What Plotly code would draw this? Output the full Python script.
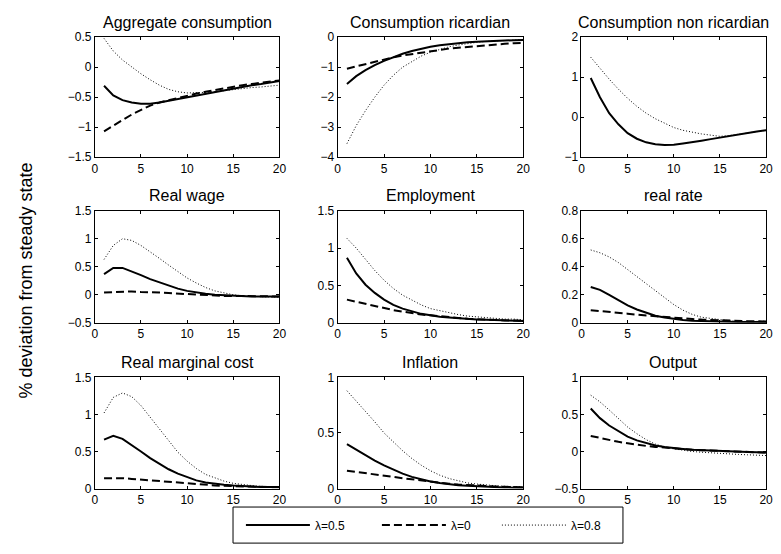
import plotly.graph_objects as go

W, H = 781, 554

periods = list(range(1, 21))

titles = ["Aggregate consumption", "Consumption ricardian", "Consumption non ricardian",
          "Real wage", "Employment", "real rate",
          "Real marginal cost", "Inflation", "Output"]

legend_names = ["\u03bb=0.5", "\u03bb=0", "\u03bb=0.8"]

# ---- series: lambda = 0.5 (solid), lambda = 0 (dashed), lambda = 0.8 (dotted)
agg_cons_l05 = [-0.31, -0.47, -0.55, -0.59, -0.61, -0.61, -0.59, -0.56, -0.53, -0.5,
                -0.47, -0.44, -0.41, -0.38, -0.35, -0.33, -0.3, -0.28, -0.25, -0.23]
agg_cons_l0 = [-1.07, -0.97, -0.88, -0.79, -0.71, -0.64, -0.59, -0.55, -0.51, -0.47,
               -0.44, -0.41, -0.38, -0.35, -0.33, -0.3, -0.28, -0.26, -0.24, -0.22]
agg_cons_l08 = [0.48, 0.27, 0.12, 0.0, -0.11, -0.21, -0.3, -0.37, -0.41, -0.43,
                -0.43, -0.42, -0.41, -0.39, -0.38, -0.36, -0.34, -0.33, -0.31, -0.3]

cr_l05 = [-1.56, -1.3, -1.1, -0.93, -0.79, -0.66, -0.55, -0.46, -0.38, -0.32,
          -0.27, -0.23, -0.2, -0.17, -0.15, -0.13, -0.12, -0.11, -0.1, -0.09]
cr_l0 = [-1.05, -0.97, -0.89, -0.81, -0.74, -0.67, -0.61, -0.56, -0.51, -0.46,
         -0.42, -0.38, -0.35, -0.32, -0.29, -0.27, -0.24, -0.22, -0.2, -0.19]
cr_l08 = [-3.55, -2.95, -2.45, -2.0, -1.6, -1.27, -1.0, -0.8, -0.63, -0.5,
          -0.4, -0.32, -0.26, -0.21, -0.17, -0.14, -0.12, -0.1, -0.09, -0.08]

cnr_l05 = [0.98, 0.5, 0.1, -0.18, -0.4, -0.54, -0.63, -0.68, -0.7, -0.69,
           -0.66, -0.63, -0.59, -0.55, -0.51, -0.47, -0.43, -0.4, -0.36, -0.33]
cnr_l0 = [None] * 20
cnr_l08 = [1.5, 1.22, 0.95, 0.7, 0.47, 0.27, 0.1, -0.04, -0.16, -0.26,
           -0.33, -0.38, -0.42, -0.45, -0.48, -0.46, -0.43, -0.4, -0.36, -0.33]

wage_l05 = [0.37, 0.48, 0.48, 0.42, 0.35, 0.28, 0.22, 0.16, 0.11, 0.07,
            0.04, 0.02, 0.0, -0.01, -0.02, -0.03, -0.03, -0.03, -0.03, -0.03]
wage_l0 = [0.04, 0.05, 0.06, 0.06, 0.05, 0.05, 0.04, 0.03, 0.02, 0.01,
           0.0, -0.01, -0.01, -0.02, -0.02, -0.02, -0.03, -0.03, -0.03, -0.03]
wage_l08 = [0.63, 0.88, 1.0, 0.97, 0.88, 0.77, 0.65, 0.53, 0.41, 0.3,
            0.21, 0.13, 0.07, 0.03, 0.0, -0.02, -0.03, -0.04, -0.04, -0.04]

empl_l05 = [0.87, 0.66, 0.51, 0.4, 0.31, 0.24, 0.19, 0.15, 0.12, 0.1,
            0.08, 0.07, 0.06, 0.05, 0.045, 0.04, 0.035, 0.03, 0.03, 0.025]
empl_l0 = [0.31, 0.28, 0.25, 0.22, 0.19, 0.17, 0.15, 0.13, 0.11, 0.1,
           0.085, 0.075, 0.065, 0.055, 0.048, 0.042, 0.037, 0.032, 0.03, 0.027]
empl_l08 = [1.13, 1.0, 0.85, 0.7, 0.57, 0.46, 0.37, 0.3, 0.24, 0.19,
            0.16, 0.13, 0.11, 0.09, 0.08, 0.07, 0.06, 0.05, 0.05, 0.04]

rate_l05 = [0.255, 0.235, 0.2, 0.16, 0.125, 0.095, 0.07, 0.05, 0.038, 0.028,
            0.02, 0.015, 0.012, 0.01, 0.008, 0.007, 0.006, 0.005, 0.005, 0.005]
rate_l0 = [0.09, 0.085, 0.08, 0.072, 0.065, 0.058, 0.052, 0.046, 0.04, 0.035,
           0.031, 0.027, 0.023, 0.02, 0.018, 0.016, 0.014, 0.012, 0.011, 0.01]
rate_l08 = [0.52, 0.5, 0.47, 0.43, 0.38, 0.33, 0.28, 0.23, 0.18, 0.13,
            0.09, 0.06, 0.04, 0.03, 0.02, 0.015, 0.01, 0.01, 0.01, 0.01]

rmc_l05 = [0.66, 0.71, 0.67, 0.59, 0.5, 0.41, 0.33, 0.26, 0.2, 0.15,
           0.11, 0.08, 0.06, 0.05, 0.04, 0.03, 0.03, 0.02, 0.02, 0.02]
rmc_l0 = [0.14, 0.145, 0.14, 0.13, 0.12, 0.11, 0.095, 0.085, 0.075, 0.065,
          0.055, 0.048, 0.042, 0.036, 0.031, 0.027, 0.024, 0.021, 0.019, 0.017]
rmc_l08 = [1.02, 1.23, 1.29, 1.24, 1.12, 0.96, 0.8, 0.64, 0.49, 0.37,
           0.27, 0.19, 0.14, 0.1, 0.07, 0.05, 0.04, 0.03, 0.03, 0.02]

infl_l05 = [0.4, 0.35, 0.3, 0.252, 0.208, 0.168, 0.134, 0.105, 0.082, 0.064,
            0.05, 0.039, 0.03, 0.024, 0.019, 0.015, 0.012, 0.01, 0.008, 0.007]
infl_l0 = [0.16, 0.15, 0.14, 0.13, 0.12, 0.105, 0.093, 0.082, 0.072, 0.062,
           0.052, 0.043, 0.036, 0.03, 0.025, 0.021, 0.018, 0.015, 0.013, 0.011]
infl_l08 = [0.88, 0.79, 0.69, 0.6, 0.5, 0.42, 0.34, 0.27, 0.21, 0.16,
            0.12, 0.09, 0.07, 0.05, 0.04, 0.03, 0.025, 0.02, 0.018, 0.015]

out_l05 = [0.58, 0.45, 0.35, 0.27, 0.2, 0.15, 0.11, 0.08, 0.06, 0.045,
           0.035, 0.025, 0.018, 0.012, 0.007, 0.002, -0.003, -0.008, -0.012, -0.015]
out_l0 = [0.21, 0.18, 0.155, 0.13, 0.11, 0.09, 0.075, 0.062, 0.05, 0.04,
          0.032, 0.024, 0.017, 0.011, 0.006, 0.001, -0.004, -0.008, -0.012, -0.015]
out_l08 = [0.76, 0.67, 0.56, 0.44, 0.33, 0.24, 0.16, 0.1, 0.06, 0.035,
           0.015, 0.0, -0.01, -0.02, -0.03, -0.035, -0.04, -0.045, -0.05, -0.055]

panel_series = [
    (agg_cons_l05, agg_cons_l0, agg_cons_l08),
    (cr_l05, cr_l0, cr_l08),
    (cnr_l05, cnr_l0, cnr_l08),
    (wage_l05, wage_l0, wage_l08),
    (empl_l05, empl_l0, empl_l08),
    (rate_l05, rate_l0, rate_l08),
    (rmc_l05, rmc_l0, rmc_l08),
    (infl_l05, infl_l0, infl_l08),
    (out_l05, out_l0, out_l08),
]

y_ranges = [(-1.5, 0.5), (-4, 0), (-1, 2),
            (-0.5, 1.5), (0, 1.5), (0, 0.8),
            (0, 1.5), (0, 1), (-0.5, 1)]
y_dticks = [0.5, 1, 1, 0.5, 0.5, 0.2, 0.5, 0.5, 0.5]
x_ticks = [0, 5, 10, 15, 20]

# ---- layout geometry (pixels)
col_px = [(93, 280), (339, 527), (586, 773)]
row_px = [(31, 154), (209, 324), (380, 494)]
legend_box_px = (233, 513, 628, 550)
legend_entry_widths = [57, 41, 40]

line_styles = [
    dict(color="black", width=2, dash="solid"),
    dict(color="black", width=2, dash="8px,4px"),
    dict(color="black", width=1, dash="1px,2px"),
]

FONT = "Liberation Sans, Arial, Helvetica, sans-serif"

fig = go.Figure()
layout = dict(
    width=W, height=H,
    margin=dict(l=0, r=0, t=0, b=0),
    paper_bgcolor="white", plot_bgcolor="white",
    font=dict(family=FONT, size=12, color="black"),
    showlegend=True,
    annotations=[],
    shapes=[],
)

for i in range(9):
    r, c = divmod(i, 3)
    ax = "" if i == 0 else str(i + 1)
    x0, x1 = col_px[c]
    y0, y1 = row_px[r]
    for k, series in enumerate(panel_series[i]):
        fig.add_trace(go.Scatter(
            x=periods, y=series, mode="lines",
            line=line_styles[k], name=legend_names[k],
            showlegend=(i == 0), legendgroup=legend_names[k],
            legendwidth=legend_entry_widths[k],
            xaxis="x" + ax, yaxis="y" + ax,
        ))
    common = dict(showline=True, linecolor="black", linewidth=1, mirror="ticks",
                  ticks="inside", ticklen=3, tickcolor="black", tickwidth=1,
                  showgrid=False, zeroline=False,
                  tickfont=dict(family=FONT, size=12, color="black"))
    layout["xaxis" + ax] = dict(domain=[x0 / W, x1 / W], anchor="y" + ax,
                                range=[0, 20], tickvals=x_ticks, **common)
    layout["yaxis" + ax] = dict(domain=[1 - y1 / H, 1 - y0 / H], anchor="x" + ax,
                                range=list(y_ranges[i]), dtick=y_dticks[i],
                                tick0=0, **common)
    layout["annotations"].append(dict(
        text=titles[i], x=(x0 + x1) / 2 / W, y=1 - y0 / H,
        xref="paper", yref="paper", xanchor="center", yanchor="middle",
        yshift=15, showarrow=False, font=dict(family=FONT, size=16, color="black")))

layout["annotations"].append(dict(
    text="% deviation from steady state", x=23 / W, y=1 - 281 / H,
    xref="paper", yref="paper", xanchor="center", yanchor="middle",
    textangle=-90, showarrow=False, font=dict(family=FONT, size=18, color="black")))

bx0, by0, bx1, by1 = legend_box_px
layout["shapes"].append(dict(
    type="rect", xref="paper", yref="paper",
    x0=bx0 / W, x1=bx1 / W, y0=1 - by1 / H, y1=1 - by0 / H,
    line=dict(color="black", width=1), fillcolor="rgba(0,0,0,0)", layer="above"))

layout["legend"] = dict(
    orientation="h", x=(bx0 + 8) / W, y=1 - (by0 + by1) / 2 / H,
    xanchor="left", yanchor="middle",
    borderwidth=0, bgcolor="rgba(0,0,0,0)",
    font=dict(family=FONT, size=12, color="black"),
    itemwidth=64,
)

fig.update_layout(**layout)
fig.write_html("out.html")
